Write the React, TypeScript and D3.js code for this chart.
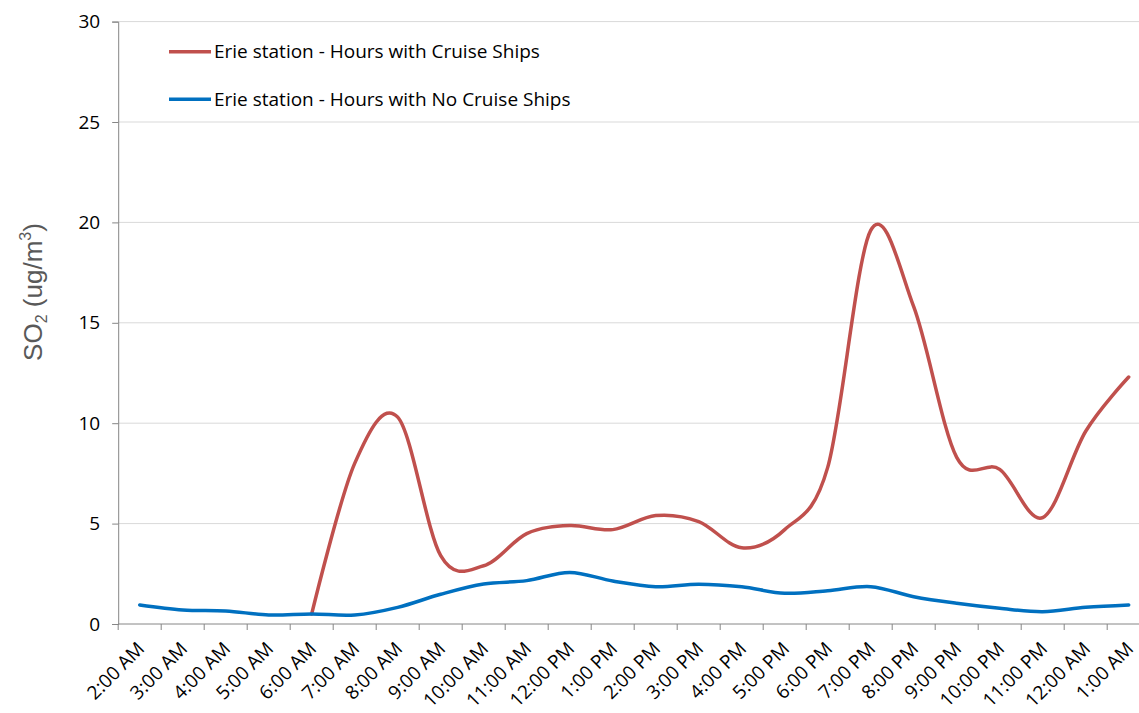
import React, { useEffect, useRef } from "react";
import * as d3 from "d3";

const hours = [
  "2:00 AM", "3:00 AM", "4:00 AM", "5:00 AM", "6:00 AM", "7:00 AM",
  "8:00 AM", "9:00 AM", "10:00 AM", "11:00 AM", "12:00 PM", "1:00 PM",
  "2:00 PM", "3:00 PM", "4:00 PM", "5:00 PM", "6:00 PM", "7:00 PM",
  "8:00 PM", "9:00 PM", "10:00 PM", "11:00 PM", "12:00 AM", "1:00 AM",
];

// null = no reading for that hour
const withShips: (number | null)[] = [
  null, null, null, null, 0.5, 8.0, 10.3, 3.4, 2.9, 4.5, 4.9, 4.7,
  5.4, 5.1, 3.8, 4.7, 7.8, 19.6, 15.8, 8.3, 7.7, 5.3, 9.6, 12.3,
];

const noShips: number[] = [
  0.95, 0.7, 0.65, 0.45, 0.5, 0.45, 0.83, 1.48, 1.99, 2.16, 2.57, 2.14,
  1.86, 1.98, 1.85, 1.53, 1.66, 1.86, 1.36, 1.03, 0.78, 0.61, 0.83, 0.95,
];

const yTicks = [0, 5, 10, 15, 20, 25, 30];

const seriesNames = [
  "Erie station - Hours with Cruise Ships",
  "Erie station - Hours with No Cruise Ships",
];
const seriesColors = ["#C0504D", "#0070C0"];

const width = 1139;
const height = 713;
const left = 118.2;
const right = 1150.2;
const top = 21.6;
const bottom = 624;
const labelFont = "'Open Sans', Lato, sans-serif";
const labelSize = 19;

const App = () => {
  const ref = useRef<SVGGElement>(null);

  useEffect(() => {
    const g = d3.select(ref.current);
    g.selectAll("*").remove();

    const x = d3.scaleBand().domain(hours).range([left, right]);
    const y = d3.scaleLinear().domain([0, 30]).range([bottom, top]);
    const cx = (d: string) => (x(d) as number) + x.bandwidth() / 2;

    // gridlines
    g.append("g")
      .selectAll("line")
      .data(yTicks.filter(t => t > 0))
      .enter()
      .append("line")
      .attr("x1", left)
      .attr("x2", right)
      .attr("y1", d => y(d))
      .attr("y2", d => y(d))
      .attr("stroke", "#D9D9D9")
      .attr("stroke-width", 1);

    // y axis
    const yAxis = g.append("g")
      .attr("transform", `translate(${left},0)`)
      .call(d3.axisLeft(y).tickValues(yTicks).tickSize(6).tickPadding(12));
    yAxis.select(".domain").attr("stroke", "#868686");
    yAxis.selectAll(".tick line").attr("stroke", "#868686");
    yAxis.selectAll(".tick text")
      .attr("font-family", labelFont)
      .attr("font-size", labelSize)
      .attr("fill", "#000");

    // x axis: ticks on band boundaries
    const xg = g.append("g");
    xg.append("line")
      .attr("x1", left)
      .attr("x2", right)
      .attr("y1", bottom)
      .attr("y2", bottom)
      .attr("stroke", "#868686");
    xg.selectAll("line.tk")
      .data(d3.range(hours.length + 1))
      .enter()
      .append("line")
      .attr("class", "tk")
      .attr("x1", i => left + i * x.bandwidth())
      .attr("x2", i => left + i * x.bandwidth())
      .attr("y1", bottom)
      .attr("y2", bottom + 6)
      .attr("stroke", "#868686");
    xg.selectAll("text")
      .data(hours)
      .enter()
      .append("text")
      .attr("transform", d => `translate(${cx(d) + 6},${bottom + 26}) rotate(-45)`)
      .attr("text-anchor", "end")
      .attr("font-family", labelFont)
      .attr("font-size", labelSize)
      .attr("fill", "#000")
      .text(d => d);

    // y title
    const title = g.append("text")
      .attr("transform", `translate(42,${(222 + 362) / 2}) rotate(-90)`)
      .attr("text-anchor", "middle")
      .attr("font-family", "'Liberation Sans', Arial, sans-serif")
      .attr("font-size", 26)
      .attr("fill", "#595959");
    title.append("tspan").text("SO");
    title.append("tspan").attr("font-size", 16).attr("dy", 5).text("2");
    title.append("tspan").attr("dy", -5).text(" (ug/m");
    title.append("tspan").attr("font-size", 16).attr("dy", -11).text("3");
    title.append("tspan").attr("dy", 11).text(")");

    // lines
    const line = d3.line<number | null>()
      .defined(d => d !== null)
      .x((_, i) => cx(hours[i]))
      .y(d => y(d as number))
      .curve(d3.curveCatmullRom.alpha(0));

    [withShips, noShips].forEach((vals, k) => {
      g.append("path")
        .attr("d", line(vals as (number | null)[]))
        .attr("fill", "none")
        .attr("stroke", seriesColors[k])
        .attr("stroke-width", 3.5)
        .attr("stroke-linejoin", "round")
        .attr("stroke-linecap", "round");
    });

    // legend
    const legend = g.append("g")
      .selectAll("g")
      .data(seriesNames)
      .enter()
      .append("g")
      .attr("transform", (_, i) => `translate(169,${51.7 + i * 47.6})`);
    legend.append("line")
      .attr("x1", 0)
      .attr("x2", 42)
      .attr("stroke", (_, i) => seriesColors[i])
      .attr("stroke-width", 3.5);
    legend.append("text")
      .attr("x", 45)
      .attr("dy", "0.35em")
      .attr("font-family", labelFont)
      .attr("font-size", labelSize)
      .attr("fill", "#000")
      .text(d => d);
  }, []);

  return (
    <svg
      width={width}
      height={height}
      style={{ position: "absolute", left: 0, top: 0, background: "#fff" }}
    >
      <g ref={ref} />
    </svg>
  );
};

export default App;
